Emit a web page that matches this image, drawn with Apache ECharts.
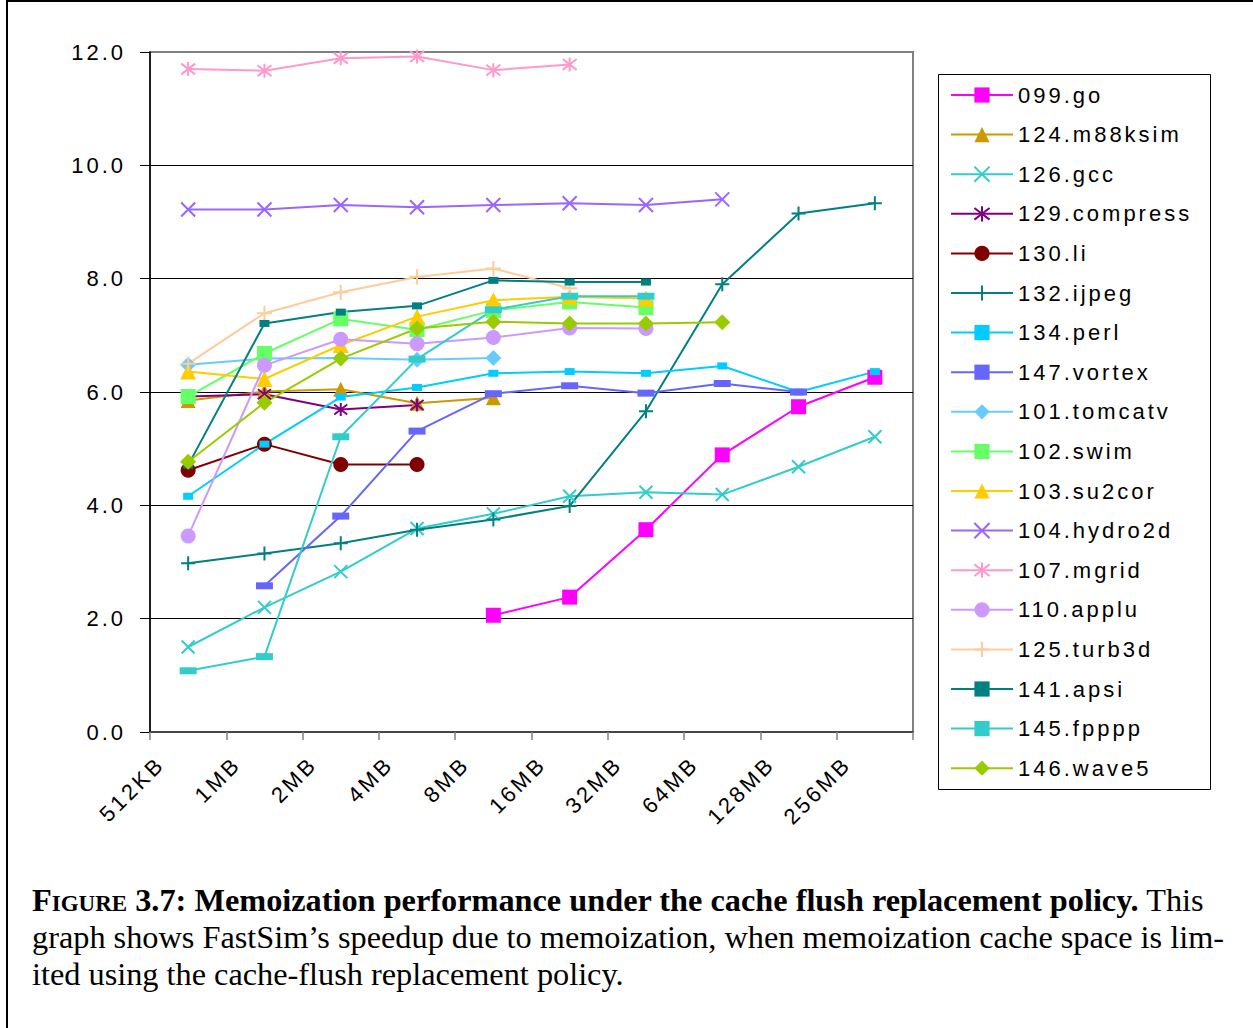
<!DOCTYPE html>
<html>
<head>
<meta charset="utf-8">
<script src="https://cdn.jsdelivr.net/npm/echarts@6/dist/echarts.min.js"></script>
<style>
  html, body { margin: 0; padding: 0; background: #fff; }
  #wrap { position: relative; width: 1253px; height: 1028px; overflow: hidden; }
  #chart { position: absolute; left: 0; top: 0; width: 1253px; height: 1028px; }
  #chart svg text { letter-spacing: 3px; }
  #caption { position: absolute; left: 32px; top: 882px; width: 1221px;
    font-family: 'Liberation Serif', 'Times New Roman', serif; font-size: 32.3px; line-height: 37px; color: #000; }
  #caption .l { white-space: nowrap; }
  #caption b { font-weight: bold; }
  .sc { font-variant: small-caps; }
</style>
</head>
<body>
<div id="wrap">
  <div id="chart"></div>
  <div id="caption">
    <div class="l"><b><span class="sc">Figure</span> 3.7: Memoization performance under the cache flush replacement policy.</b> This</div>
    <div class="l">graph shows FastSim’s speedup due to memoization, when memoization cache space is lim-</div>
    <div class="l">ited using the cache-flush replacement policy.</div>
  </div>
</div>
<script>
const categories = ['512KB','1MB','2MB','4MB','8MB','16MB','32MB','64MB','128MB','256MB'];
const yMin = 0, yMax = 12, yStep = 2;

const s099go       = [null, null, null, null, 2.06, 2.38, 3.57, 4.89, 5.74, 6.26];
const s124m88ksim  = [5.85, 6.01, 6.05, 5.80, 5.90, null, null, null, null, null];
const s126gcc      = [1.50, 2.20, 2.83, 3.59, 3.85, 4.16, 4.23, 4.19, 4.68, 5.21];
const s129compress = [5.92, 5.96, 5.69, 5.77, null, null, null, null, null, null];
const s130li       = [4.62, 5.08, 4.72, 4.72, null, null, null, null, null, null];
const s132ijpeg    = [2.98, 3.15, 3.33, 3.57, 3.75, 3.99, 5.66, 7.90, 9.15, 9.33];
const s134perl     = [4.16, 5.08, 5.91, 6.08, 6.33, 6.36, 6.33, 6.46, 6.00, 6.36];
const s147vortex   = [null, 2.58, 3.81, 5.31, 5.97, 6.11, 5.98, 6.15, 6.00, null];
const s101tomcatv  = [6.48, 6.59, 6.60, 6.57, 6.60, null, null, null, null, null];
const s102swim     = [5.92, 6.68, 7.29, 7.10, 7.44, 7.59, 7.49, null, null, null];
const s103su2cor   = [6.36, 6.23, 6.83, 7.33, 7.62, 7.68, 7.65, null, null, null];
const s104hydro2d  = [9.22, 9.22, 9.30, 9.26, 9.30, 9.33, 9.30, 9.40, null, null];
const s107mgrid    = [11.70, 11.67, 11.89, 11.92, 11.68, 11.78, null, null, null, null];
const s110applu    = [3.46, 6.47, 6.93, 6.85, 6.96, 7.13, 7.12, null, null, null];
const s125turb3d   = [6.50, 7.39, 7.76, 8.03, 8.18, 7.83, null, null, null, null];
const s141apsi     = [4.71, 7.21, 7.41, 7.52, 7.97, 7.94, 7.94, null, null, null];
const s145fpppp    = [1.08, 1.33, 5.21, 6.58, 7.45, 7.69, 7.69, null, null, null];
const s146wave5    = [4.77, 5.81, 6.59, 7.12, 7.24, 7.21, 7.21, 7.23, null, null];

const X_PATH = 'path://M0,0L10,10M10,0L0,10';
const AST_PATH = 'path://M0,0L10,10M10,0L0,10M5,-1.5L5,11.5';
const PLUS_PATH = 'path://M5,0L5,10M0,5L10,5';

const seriesDefs = [
  { name: '099.go',       data: s099go,       color: '#FF00FF', symbol: 'rect',     size: 15 },
  { name: '124.m88ksim',  data: s124m88ksim,  color: '#CC9900', symbol: 'triangle', size: 15 },
  { name: '126.gcc',      data: s126gcc,      color: '#33CCCC', symbol: X_PATH,     size: 13, stroke: true },
  { name: '129.compress', data: s129compress, color: '#800080', symbol: AST_PATH,   size: 13, stroke: true },
  { name: '130.li',       data: s130li,       color: '#800000', symbol: 'circle',   size: 15 },
  { name: '132.ijpeg',    data: s132ijpeg,    color: '#008080', symbol: PLUS_PATH,  size: 14, stroke: true },
  { name: '134.perl',     data: s134perl,     color: '#00CCFF', symbol: 'rect',     size: [10, 7] },
  { name: '147.vortex',   data: s147vortex,   color: '#6666FF', symbol: 'rect',     size: [17, 7] },
  { name: '101.tomcatv',  data: s101tomcatv,  color: '#66CCFF', symbol: 'diamond',  size: 16 },
  { name: '102.swim',     data: s102swim,     color: '#66FF66', symbol: 'rect',     size: 15 },
  { name: '103.su2cor',   data: s103su2cor,   color: '#FFCC00', symbol: 'triangle', size: 16 },
  { name: '104.hydro2d',  data: s104hydro2d,  color: '#9966FF', symbol: X_PATH,     size: 14, stroke: true },
  { name: '107.mgrid',    data: s107mgrid,    color: '#FF99CC', symbol: AST_PATH,   size: 14, stroke: true },
  { name: '110.applu',    data: s110applu,    color: '#CC99FF', symbol: 'circle',   size: 15 },
  { name: '125.turb3d',   data: s125turb3d,   color: '#FFCC99', symbol: PLUS_PATH,  size: 15, stroke: true },
  { name: '141.apsi',     data: s141apsi,     color: '#008080', symbol: 'rect',     size: [10, 7] },
  { name: '145.fpppp',    data: s145fpppp,    color: '#33CCCC', symbol: 'rect',     size: [17, 7] },
  { name: '146.wave5',    data: s146wave5,    color: '#99CC00', symbol: 'diamond',  size: 16 }
];

const FONT = "'Liberation Sans', Arial, sans-serif";

const chart = echarts.init(document.getElementById('chart'), null, { renderer: 'svg', width: 1253, height: 1028 });

chart.setOption({
  animation: false,
  backgroundColor: '#fff',
  grid: { left: 150, right: 340, top: 52, bottom: 296, show: true, borderColor: '#808080', borderWidth: 2, backgroundColor: 'transparent' },
  legend: {
    orient: 'vertical', left: 945, top: 79,
    itemWidth: 62, itemHeight: 19, itemGap: 17.6,
    textStyle: { fontFamily: FONT, fontSize: 22, color: '#000' },
    data: seriesDefs.map(d => d.name),
    selectedMode: false
  },
  xAxis: {
    type: 'category', data: categories, boundaryGap: true,
    axisLine: { lineStyle: { color: '#333', width: 1.5 } },
    axisTick: { show: true, interval: 0, length: 8, lineStyle: { color: '#808080', width: 1.5 } },
    axisLabel: { interval: 0, rotate: 45, margin: 1, padding: [0, 39, 0, 0], fontFamily: FONT, fontSize: 22, color: '#000' },
    splitLine: { show: false }
  },
  yAxis: {
    type: 'value', min: yMin, max: yMax, interval: yStep,
    axisLine: { show: true, lineStyle: { color: '#000', width: 1.5 } },
    axisTick: { show: true, length: 10, lineStyle: { color: '#000', width: 1 } },
    axisLabel: { margin: 24, fontFamily: FONT, fontSize: 22, color: '#000', formatter: v => v.toFixed(1) },
    splitLine: { show: true, showMinLine: false, showMaxLine: false, lineStyle: { color: '#000', width: 1 } }
  },
  graphic: [
    { type: 'rect', shape: { x: 938.5, y: 74.5, width: 272, height: 715 }, style: { fill: 'none', stroke: '#000', lineWidth: 1 }, silent: true },
    { type: 'line', shape: { x1: 7, y1: 1, x2: 1253, y2: 1 }, style: { stroke: '#000', lineWidth: 2 }, silent: true },
    { type: 'line', shape: { x1: 7, y1: 0, x2: 7, y2: 1028 }, style: { stroke: '#000', lineWidth: 2 }, silent: true }
  ],
  series: seriesDefs.map(d => ({
    name: d.name, type: 'line', data: d.data,
    symbol: d.symbol, symbolSize: d.size, showSymbol: true, showAllSymbol: true,
    connectNulls: false,
    lineStyle: { color: d.color, width: 2 },
    itemStyle: d.stroke ? { color: d.color, borderColor: d.color, borderWidth: 2 } : { color: d.color, borderWidth: 0 },
    emphasis: { disabled: true },
    z: 2
  }))
});
</script>
</body>
</html>
